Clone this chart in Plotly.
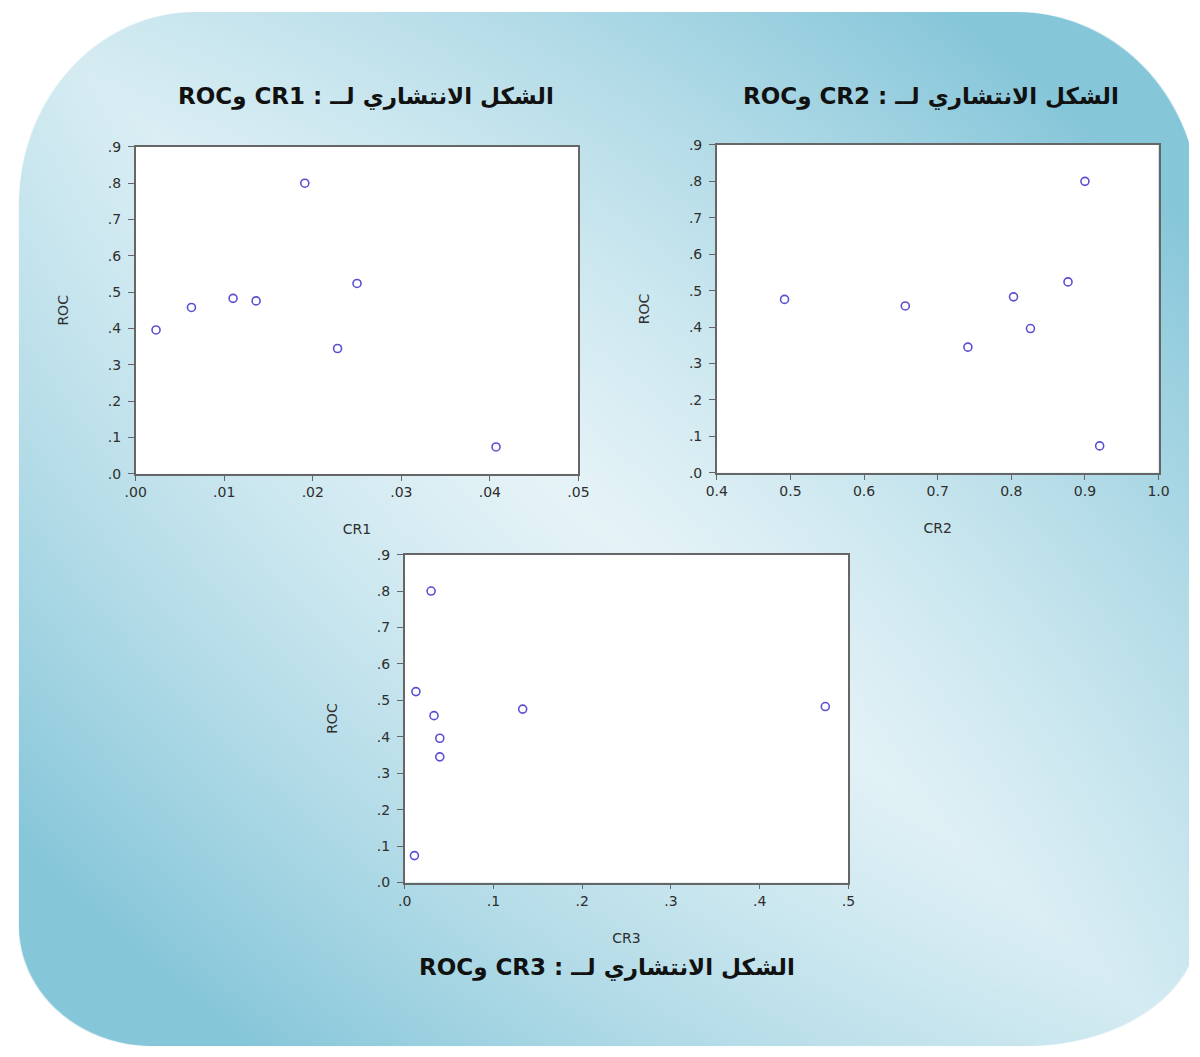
import base64
import struct
import zlib

import numpy as np
import plotly.graph_objects as go

# ---------------- data ----------------
ROC = [0.396, 0.458, 0.483, 0.476, 0.800, 0.345, 0.524, 0.074]
CR1 = [0.0023, 0.0063, 0.0110, 0.0136, 0.0191, 0.0228, 0.0250, 0.0407]
CR2 = [0.826, 0.656, 0.803, 0.492, 0.900, 0.741, 0.877, 0.920]
CR3 = [0.0396, 0.0331, 0.474, 0.133, 0.0298, 0.0396, 0.0127, 0.011]

Y_TICKVALS = [0.0, 0.1, 0.2, 0.3, 0.4, 0.5, 0.6, 0.7, 0.8, 0.9]
Y_TICKTEXT = [".0", ".1", ".2", ".3", ".4", ".5", ".6", ".7", ".8", ".9"]
X1_TICKVALS = [0.00, 0.01, 0.02, 0.03, 0.04, 0.05]
X1_TICKTEXT = [".00", ".01", ".02", ".03", ".04", ".05"]
X2_TICKVALS = [0.4, 0.5, 0.6, 0.7, 0.8, 0.9, 1.0]
X2_TICKTEXT = ["0.4", "0.5", "0.6", "0.7", "0.8", "0.9", "1.0"]
X3_TICKVALS = [0.0, 0.1, 0.2, 0.3, 0.4, 0.5]
X3_TICKTEXT = [".0", ".1", ".2", ".3", ".4", ".5"]

TITLE1 = "\u202bالشكل الانتشاري لــ : CR1 وROC\u202c"
TITLE2 = "\u202bالشكل الانتشاري لــ : CR2 وROC\u202c"
TITLE3 = "\u202bالشكل الانتشاري لــ : CR3 وROC\u202c"

W, H = 1200, 1057


# ---------------- background image (rounded gradient panel) ----------------
def make_background():
    yy, xx = np.mgrid[0:H, 0:W].astype(float)
    yy += 0.5
    xx += 0.5
    x0, x1, y0, y1 = 8.0, 1210.0, 4.0, 1054.0
    alpha = np.clip(np.minimum.reduce([xx - x0, x1 - xx, yy - y0, y1 - yy]) + 0.5, 0, 1)
    corners = [
        (x0, y0, 180.0, 196.0, -1, -1),
        (x1, y0, 186.0, 196.0, 1, -1),
        (x0, y1, 136.0, 122.0, -1, 1),
        (x1, y1, 176.0, 122.0, 1, 1),
    ]
    for cx, cy, rx, ry, sx, sy in corners:
        ecx = cx - sx * rx
        ecy = cy - sy * ry
        region = ((xx - ecx) * sx > 0) & ((yy - ecy) * sy > 0)
        d = np.sqrt(((xx - ecx) / rx) ** 2 + ((yy - ecy) / ry) ** 2)
        a = np.clip(0.5 - (d - 1.0) * min(rx, ry), 0, 1)
        alpha = np.where(region, np.minimum(alpha, a), alpha)

    nx = (xx - 600) / 600
    ny = (yy - 528) / 528
    u = (nx - ny) / 2.0
    r2 = (nx ** 2 + ny ** 2) / 2.0
    t = np.clip(1.05 * np.abs(u) + 0.25 * r2, 0, 1) ** 1.1
    light = np.array([229, 243, 247], float)
    dark = np.array([134, 198, 217], float)
    rgb = light[None, None, :] * (1 - t[..., None]) + dark[None, None, :] * t[..., None]
    rgb = rgb * alpha[..., None] + 255 * (1 - alpha[..., None])
    arr = np.clip(np.round(rgb), 0, 255).astype(np.uint8)

    filt = arr.copy()
    filt[:, 1:, :] = arr[:, 1:, :] - arr[:, :-1, :]
    rows = np.concatenate([np.ones((H, 1), np.uint8), filt.reshape(H, -1)], axis=1)
    raw = rows.tobytes()

    def chunk(tag, data):
        c = struct.pack(">I", len(data)) + tag + data
        return c + struct.pack(">I", zlib.crc32(tag + data) & 0xFFFFFFFF)

    png = b"\x89PNG\r\n\x1a\n"
    png += chunk(b"IHDR", struct.pack(">IIBBBBB", W, H, 8, 2, 0, 0, 0))
    png += chunk(b"IDAT", zlib.compress(raw, 9))
    png += chunk(b"IEND", b"")
    return "data:image/png;base64," + base64.b64encode(png).decode()


fig = go.Figure()

marker = dict(symbol="circle-open", size=8, color="#5a4fd2", line=dict(width=1.6, color="#5a4fd2"))

fig.add_trace(go.Scatter(x=CR1, y=ROC, mode="markers", marker=marker, xaxis="x", yaxis="y", showlegend=False))
fig.add_trace(go.Scatter(x=CR2, y=ROC, mode="markers", marker=marker, xaxis="x2", yaxis="y2", showlegend=False))
fig.add_trace(go.Scatter(x=CR3, y=ROC, mode="markers", marker=marker, xaxis="x3", yaxis="y3", showlegend=False))

tick_font = dict(family="DejaVu Sans, sans-serif", size=14, color="#2e2e2e")
title_font = dict(family="DejaVu Sans, sans-serif", size=14, color="#2e2e2e")

common_axis = dict(
    showline=True, mirror=True, linecolor="#666666", linewidth=1.5,
    ticks="outside", tickwidth=1, tickcolor="#666666",
    showgrid=False, zeroline=False, tickfont=tick_font, fixedrange=True,
)


def xaxis(domain, rng, vals, text, title, anchor):
    return dict(common_axis, domain=domain, range=rng, tickvals=vals, ticktext=text, anchor=anchor,
                ticklen=5, title=dict(text=title, font=title_font, standoff=25))


def yaxis(domain, anchor):
    return dict(common_axis, domain=domain, range=[0, 0.9], tickvals=Y_TICKVALS, ticktext=Y_TICKTEXT,
                anchor=anchor, ticklen=6, ticklabelstandoff=4,
                title=dict(text="ROC", font=title_font, standoff=36))


def px_x(p):
    return p / W


def px_y(p):
    return 1 - p / H


shapes = []
for xr, yr in [("x", "y"), ("x2", "y2"), ("x3", "y3")]:
    shapes.append(dict(type="rect", xref=xr + " domain", yref=yr + " domain", x0=0, x1=1, y0=0, y1=1,
                       fillcolor="white", line=dict(width=0), layer="below"))

fig.update_layout(
    width=W, height=H, autosize=False,
    margin=dict(l=0, r=0, t=0, b=0),
    paper_bgcolor="white", plot_bgcolor="white",
    xaxis=xaxis([px_x(127), px_x(578)], [0, 0.05], X1_TICKVALS, X1_TICKTEXT, "CR1", "y"),
    yaxis=yaxis([px_y(473), px_y(141)], "x"),
    xaxis2=xaxis([px_x(719), px_x(1169)], [0.4, 1.0], X2_TICKVALS, X2_TICKTEXT, "CR2", "y2"),
    yaxis2=yaxis([px_y(472), px_y(139)], "x2"),
    xaxis3=xaxis([px_x(401), px_x(853)], [0, 0.5], X3_TICKVALS, X3_TICKTEXT, "CR3", "y3"),
    yaxis3=yaxis([px_y(888), px_y(555)], "x3"),
    shapes=shapes,
    images=[dict(source=make_background(), xref="paper", yref="paper", x=0, y=1,
                 sizex=1, sizey=1, xanchor="left", yanchor="top", sizing="stretch", layer="below")],
)

head_font = dict(family="DejaVu Sans, sans-serif", size=23, color="#111111")
for text, cx, cy in [(TITLE1, 362, 90), (TITLE2, 937, 90), (TITLE3, 607, 974)]:
    fig.add_annotation(text="<b>" + text + "</b>", xref="paper", yref="paper",
                       x=px_x(cx), y=px_y(cy), xanchor="center", yanchor="middle",
                       showarrow=False, font=head_font)

fig.write_html("out.html")
